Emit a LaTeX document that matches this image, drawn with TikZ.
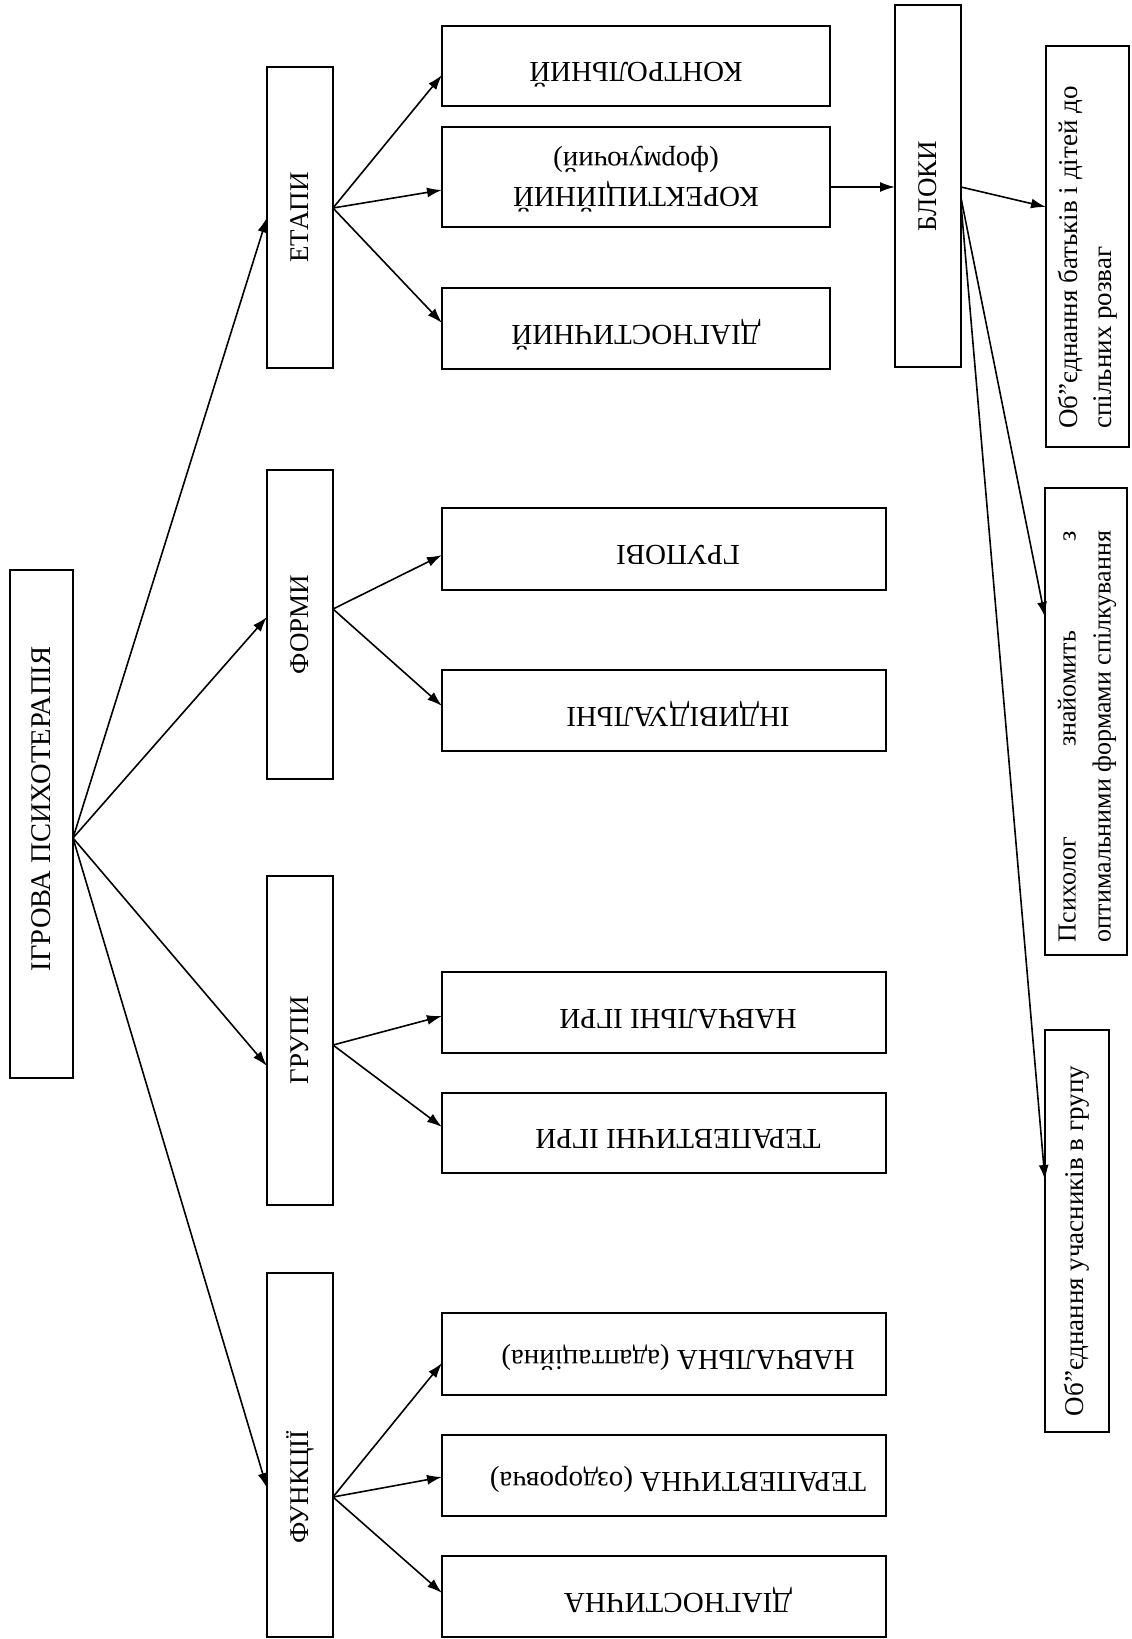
\documentclass[tikz,border=0pt]{standalone}
\usepackage{fontspec}
\setmainfont{Liberation Serif}
\usepackage{calc}
\usetikzlibrary{arrows.meta,calc}
\newcommand{\updown}[1]{\raisebox{3.5pt}[0pt][0pt]{\rotatebox{180}{#1}}}
\begin{document}
\begin{tikzpicture}[x=1pt,y=-1pt,
  box/.style={draw,line width=1.8pt,inner sep=0pt,outer sep=0pt,font=\fontsize{27}{34}\selectfont},
  big/.style={font=\fontsize{29}{35}\selectfont},
  colA/.style={box,minimum width=66pt},
  colB/.style={box,big,minimum width=388pt},
  colC/.style={box,big,minimum width=444pt},
  arr/.style={line width=1.6pt,-{Latex[length=15pt,width=10pt]}}]
\useasboundingbox (0,0) rectangle (1132,1639);
% main
\node[box,font=\fontsize{28.5}{34}\selectfont,minimum width=63pt,minimum height=508pt] (main) at (41.5,824) {\rotatebox{90}{\hspace*{30pt}ІГРОВА ПСИХОТЕРАПІЯ}};
% column 1
\node[colA,minimum height=301pt] (etapy) at (300,217.5) {\rotatebox{90}{ЕТАПИ}};
\node[colA,minimum height=309pt] (formy) at (300,624.5) {\rotatebox{90}{ФОРМИ}};
\node[colA,minimum height=329pt] (grupy) at (300,1040.5) {\rotatebox{90}{ГРУПИ}};
\node[colA,minimum height=364pt] (funk) at (300,1455) {\rotatebox{90}{ФУНКЦІЇ\hspace*{64pt}}};
% column 2
\node[colB,minimum height=80pt] (kontr) at (636,66) {\updown{КОНТРОЛЬНИЙ}};
\node[colB,minimum height=100pt] (korekt) at (636,177) {\rotatebox{180}{\begin{tabular}{@{}c@{}}КОРЕКТИЦІЙНИЙ\\(формуючий)\end{tabular}}};
\node[colB,minimum height=81pt] (diagn1) at (636,328.5) {\updown{ДІАГНОСТИЧНИЙ}};
\node[colC,minimum height=82pt] (grupovi) at (664,549) {\hspace*{28pt}\updown{ГРУПОВІ}};
\node[colC,minimum height=81pt] (indyv) at (664,710.5) {\hspace*{28pt}\updown{ІНДИВІДУАЛЬНІ}};
\node[colC,minimum height=81pt] (navchigry) at (664,1012.5) {\hspace*{28pt}\updown{НАВЧАЛЬНІ ІГРИ}};
\node[colC,minimum height=80pt] (terapigry) at (664,1133) {\hspace*{28pt}\updown{ТЕРАПЕВТИЧНІ ІГРИ}};
\node[colC,minimum height=82pt] (navcha) at (664,1354) {\hspace*{28pt}\updown{НАВЧАЛЬНА (адаптаційна)}};
\node[colC,minimum height=81pt] (terapa) at (664,1475.5) {\hspace*{28pt}\updown{ТЕРАПЕВТИЧНА (оздоровча)}};
\node[colC,minimum height=81pt] (diagna) at (664,1596.5) {\hspace*{28pt}\updown{ДІАГНОСТИЧНА}};
% column 3
\node[box,minimum width=66pt,minimum height=362pt] (bloky) at (928,186) {\rotatebox{90}{БЛОКИ}};
\node[box,minimum width=83pt,minimum height=401pt] (ob1) at (1087.5,246.5) {\rotatebox{90}{\begin{tabular}{@{}l@{}}Об”єднання батьків і дітей до\\спільних розваг\end{tabular}\hspace*{22pt}}};
\node[box,font=\fontsize{26}{35}\selectfont,minimum width=82pt,minimum height=467pt] (psych) at (1086,721.5) {\rotatebox{90}{\begin{tabular}{@{}l@{}}\makebox[\widthof{оптимальними формами спілкування}][s]{Психолог знайомить з}\\оптимальними формами спілкування\end{tabular}\hspace*{30pt}}};
\node[box,minimum width=64pt,minimum height=402pt] (ob2) at (1077,1231) {\rotatebox{90}{Об”єднання учасників в групу\hspace*{20pt}}};
% connectors from main
\draw[arr] ($(main.east)+(0,14)$) -- (etapy.west);
\draw[arr] ($(main.east)+(0,14)$) -- ($(formy.west)+(0,-7.5)$);
\draw[arr] ($(main.east)+(0,14)$) -- ($(grupy.west)+(0,25.5)$);
\draw[arr] ($(main.east)+(0,14)$) -- ($(funk.west)+(0,33)$);
% etapy
\draw[arr] ($(etapy.east)+(0,-9.5)$) -- ($(kontr.west)+(0,9)$);
\draw[arr] ($(etapy.east)+(0,-9.5)$) -- ($(korekt.west)+(0,13)$);
\draw[arr] ($(etapy.east)+(0,-9.5)$) -- ($(diagn1.west)+(0,-5.5)$);
% formy
\draw[arr] ($(formy.east)+(0,-15.5)$) -- ($(grupovi.west)+(0,6)$);
\draw[arr] ($(formy.east)+(0,-15.5)$) -- ($(indyv.west)+(0,-4.5)$);
% grupy
\draw[arr] ($(grupy.east)+(0,4.5)$) -- ($(navchigry.west)+(0,3.5)$);
\draw[arr] ($(grupy.east)+(0,4.5)$) -- ($(terapigry.west)+(0,-6)$);
% funk
\draw[arr] ($(funk.east)+(0,42)$) -- ($(navcha.west)+(0,9)$);
\draw[arr] ($(funk.east)+(0,42)$) -- ($(terapa.west)+(0,1.5)$);
\draw[arr] ($(funk.east)+(0,42)$) -- ($(diagna.west)+(0,-3.5)$);
% korekt -> bloky
\draw[arr] ($(korekt.east)+(0,10)$) -- ($(bloky.west)+(0,1)$);
% bloky
\draw[arr] ($(bloky.east)+(0,1)$) -- ($(ob1.west)+(0,-39.5)$);
\draw[arr] ($(bloky.east)+(0,12)$) -- ($(psych.west)+(0,-104.5)$);
\draw[arr] ($(bloky.east)+(0,18)$) -- ($(ob2.west)+(0,-51)$);
\end{tikzpicture}
\end{document}
